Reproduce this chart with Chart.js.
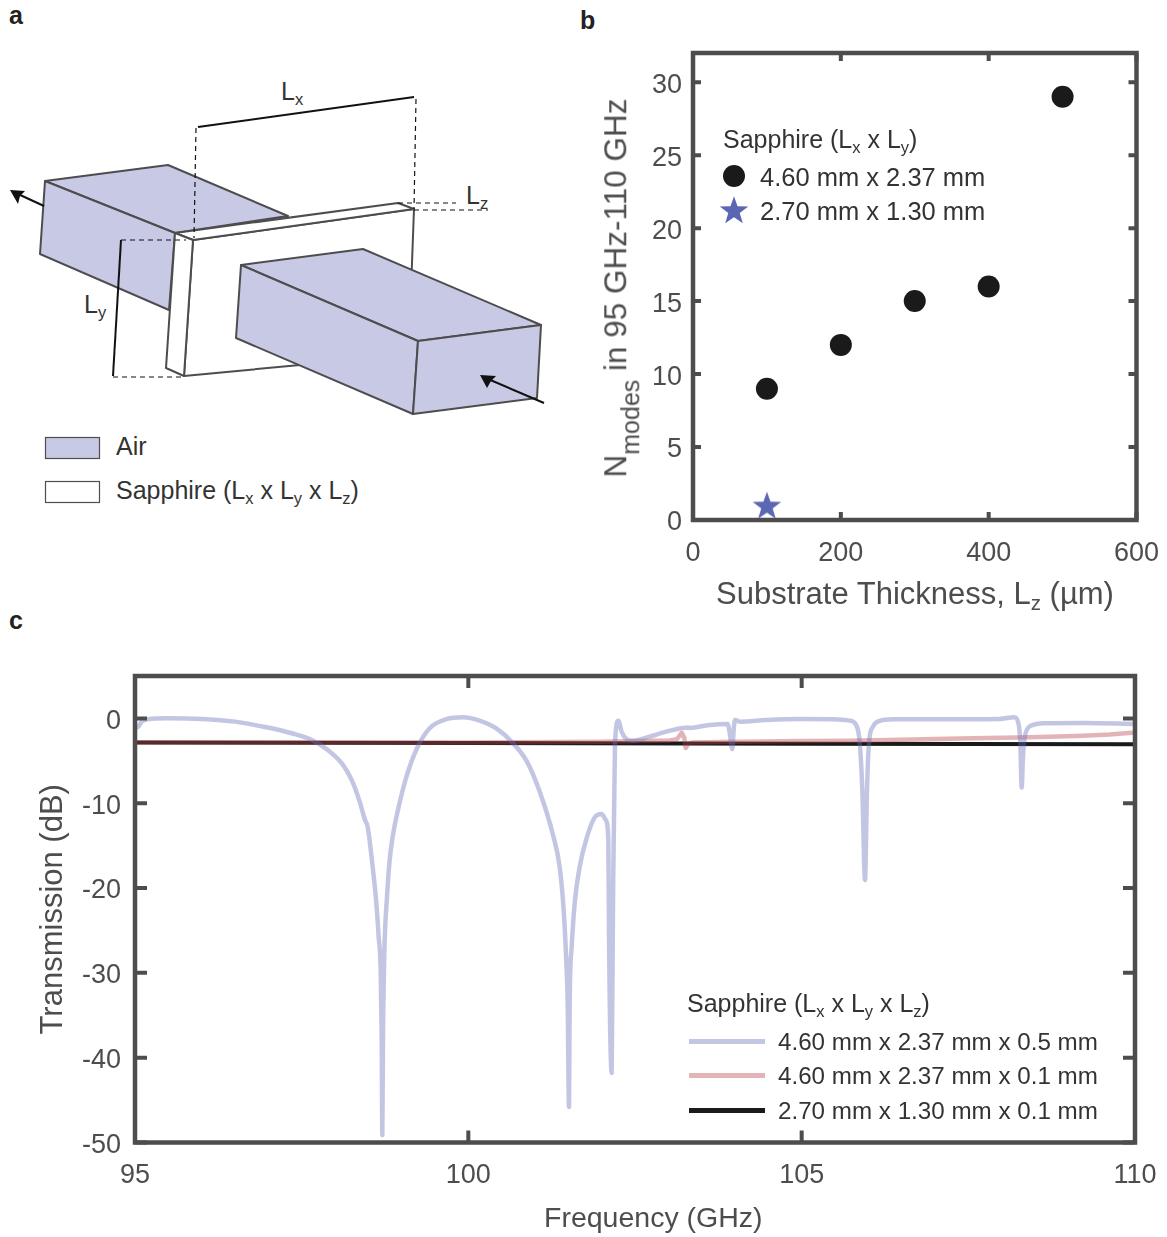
<!DOCTYPE html>
<html>
<head>
<meta charset="utf-8">
<title>Sapphire substrate transmission</title>
<script src="https://cdn.jsdelivr.net/npm/chart.js@4/dist/chart.umd.min.js"></script>
<style>
html, body { margin: 0; padding: 0; width: 1167px; height: 1237px; background: #fff; overflow: hidden; }
body { position: relative; font-family: "Liberation Sans", Arial, sans-serif; }
canvas.plot { position: absolute; }
.t { position: absolute; white-space: nowrap; line-height: 1; }
.t sub { font-size: 66%; vertical-align: -0.3em; line-height: 0; }
.panel { font-weight: bold; font-size: 25px; color: #222; }
.leg { color: #333; }
.axis { color: #4d4d4d; }
.swatch { position: absolute; width: 76px; height: 5px; }
#schematic { position: absolute; left: 0; top: 0; }
</style>
</head>
<body>

<svg id="schematic" width="570" height="530">
  <g fill="#c8c9e4" stroke="#4d4d4f" stroke-width="2" stroke-linejoin="round">
    <polygon points="45,181 168,165 288,216 175,233"/>
    <polygon points="45,181 175,233 169,310 40,254"/>
  </g>
  <g fill="#fff" stroke="#4d4d4f" stroke-width="2" stroke-linejoin="round">
    <polygon points="193,240 414,209 411,290 300,365 184,376"/>
    <polygon points="175,233 398,203 414,209 193,240"/>
    <polygon points="175,233 193,240 184,376 166,368"/>
  </g>
  <g fill="#c8c9e4" stroke="#4d4d4f" stroke-width="2" stroke-linejoin="round">
    <polygon points="241,265 363,249 541,325 418,341"/>
    <polygon points="241,265 418,341 413,414 236,338"/>
    <polygon points="418,341 541,325 537,398 413,414"/>
  </g>
  <g stroke="#111" stroke-width="2" fill="none">
    <line x1="198" y1="127" x2="414" y2="97"/>
    <line x1="121" y1="240" x2="113" y2="376"/>
    <line x1="44" y1="206" x2="18" y2="194"/>
    <line x1="544" y1="403" x2="488" y2="379"/>
  </g>
  <polygon points="10,190 25,191 20,196 18,204" fill="#111"/>
  <polygon points="480,375 496,376 491,381 487,388" fill="#111"/>
  <g stroke="#111" stroke-width="1.2" fill="none" stroke-dasharray="5 4">
    <line x1="196" y1="128" x2="194" y2="238"/>
    <line x1="416" y1="99" x2="414" y2="209"/>
    <line x1="398" y1="203" x2="456" y2="203"/>
    <line x1="414" y1="210" x2="488" y2="210"/>
    <line x1="121" y1="240" x2="186" y2="240"/>
    <line x1="113" y1="377" x2="184" y2="377"/>
  </g>
  <rect x="45.5" y="437.5" width="54" height="21" fill="#c8c9e4" stroke="#4d4d4f" stroke-width="1.2"/>
  <rect x="45.5" y="481.5" width="54" height="21" fill="#fff" stroke="#4d4d4f" stroke-width="1.2"/>
</svg>

<div class="t panel" style="left:9px;top:3px">a</div>
<div class="t panel" style="left:580px;top:8px">b</div>
<div class="t panel" style="left:9px;top:608px">c</div>

<div class="t leg" style="left:281px;top:79px;font-size:25px">L<sub>x</sub></div>
<div class="t leg" style="left:84px;top:292px;font-size:25px">L<sub>y</sub></div>
<div class="t leg" style="left:466px;top:183px;font-size:25px">L<sub>z</sub></div>
<div class="t leg" style="left:116px;top:434px;font-size:25px">Air</div>
<div class="t leg" style="left:116px;top:478px;font-size:25px">Sapphire (L<sub>x</sub> x L<sub>y</sub> x L<sub>z</sub>)</div>

<canvas class="plot" id="chartB" style="left:570px;top:30px"></canvas>
<canvas class="plot" id="chartC" style="left:0;top:630px"></canvas>

<div class="t axis" style="left:616px;top:287.5px;font-size:31.5px;transform:translate(-50%,-50%) rotate(-90deg)">N<sub style="font-size:25px;vertical-align:-0.5em">modes</sub> in 95 GHz-110 GHz</div>
<div class="t axis" style="left:716px;top:578px;font-size:31px">Substrate Thickness, L<sub>z</sub> (µm)</div>
<div class="t axis" style="left:544px;top:1203px;font-size:28.5px">Frequency (GHz)</div>

<div id="legendB"></div>
<div id="legendC"></div>

<script>
// panel b
const thickness = [100, 200, 300, 400, 500];
const modesLarge = [9, 12, 15, 16, 29];
const thicknessSmall = [100];
const modesSmall = [1];
const xTicksB = [0, 200, 400, 600];
const yTicksB = [0, 5, 10, 15, 20, 25, 30];

// panel c
const freqThick = [95, 95.05, 95.1, 95.19, 95.49, 96, 96.5, 96.99, 97.35, 97.65, 97.89, 98.1, 98.25, 98.37, 98.45, 98.49, 98.57, 98.62, 98.655, 98.685, 98.7, 98.71, 98.72, 98.74, 98.78, 98.82, 98.87, 98.95, 99.08, 99.23, 99.42, 99.68, 99.92, 100.17, 100.43, 100.67, 100.88, 101.07, 101.27, 101.37, 101.43, 101.47, 101.49, 101.51, 101.52, 101.55, 101.6, 101.67, 101.78, 101.9, 102, 102.06, 102.1, 102.11, 102.15, 102.17, 102.2, 102.25, 102.3, 102.37, 102.47, 102.72, 102.97, 103.3, 103.32, 103.62, 103.89, 103.92, 103.96, 103.98, 104, 104.07, 104.47, 104.97, 105.47, 105.72, 105.83, 105.87, 105.91, 105.95, 105.98, 106.01, 106.07, 106.17, 106.37, 107.22, 107.97, 108.19, 108.25, 108.28, 108.3, 108.32, 108.36, 108.47, 108.62, 109.22, 110];
const transThick = [-1.12, -0.97, -0.38, -0.09, 0.02, -0.06, -0.38, -1.08, -1.75, -2.54, -3.71, -5.28, -7.25, -9.81, -11.97, -12.79, -17.87, -21.76, -25.77, -29.66, -37.56, -49.12, -37.56, -27.65, -21.05, -16.69, -13.74, -10.59, -6.66, -3.51, -1.16, -0.06, 0.14, -0.26, -1.24, -2.92, -5.09, -8.63, -13.74, -17.51, -22.58, -28.83, -33.55, -45.81, -33.55, -26.95, -21.4, -17.51, -13.97, -11.62, -11.26, -11.97, -14.33, -25.77, -41.8, -21.76, -2.89, -0.29, -1.59, -2.42, -2.62, -2.15, -1.56, -1.08, -1.12, -0.77, -0.65, -1.71, -3.6, -1.36, -0.18, -0.38, -0.18, -0.06, -0.09, -0.26, -1, -2.77, -8.43, -19.04, -8.43, -2.89, -0.97, -0.29, -0.09, -0.09, -0.06, 0.14, -0.53, -2.89, -8.16, -4.5, -1.71, -0.77, -0.57, -0.53, -0.65];
const freqThin = [95, 100, 101.97, 103.02, 103.13, 103.2, 103.24, 103.26, 103.3, 103.35, 103.77, 104.97, 105.72, 107.57, 108.23, 108.72, 109.22, 109.62, 110];
const transThin = [-2.85, -2.83, -2.74, -2.59, -2.45, -1.71, -2.3, -3.48, -3, -2.85, -2.77, -2.65, -2.62, -2.33, -2.26, -2.15, -2.03, -1.89, -1.67];
const freqSmall = [95, 100, 105, 110];
const transSmall = [-2.85, -2.9, -2.98, -3.05];
const xTicksC = [95, 100, 105, 110];
const yTicksC = [-50, -40, -30, -20, -10, 0];

const legendLabelsB = ["4.60 mm x 2.37 mm", "2.70 mm x 1.30 mm"];
const legendLabelsC = ["4.60 mm x 2.37 mm x 0.5 mm", "4.60 mm x 2.37 mm x 0.1 mm", "2.70 mm x 1.30 mm x 0.1 mm"];

const axisColor = "#4d4d4d";
const starColor = "#5b66b5";

function zip(xs, ys) {
    return xs.map((x, i) => ({ x: x, y: ys[i] }));
}

// filled five point star, chart.js only has the stroked one
function makeStar(size) {
    const c = document.createElement("canvas");
    c.width = size;
    c.height = size;
    const g = c.getContext("2d");
    g.fillStyle = starColor;
    g.beginPath();
    for (let i = 0; i < 10; i++) {
        const r = i % 2 ? size * 0.2 : size * 0.5;
        const a = -Math.PI / 2 + i * Math.PI / 5;
        g.lineTo(size / 2 + r * Math.cos(a), size / 2 + r * Math.sin(a) + size * 0.04);
    }
    g.closePath();
    g.fill();
    return c;
}

// box round the plot with ticks pointing inwards on all four sides
const frameTicks = {
    id: "frameTicks",
    afterDatasetsDraw(chart, args, opts) {
        const { ctx, chartArea: a, scales } = chart;
        ctx.save();
        ctx.strokeStyle = axisColor;
        ctx.lineWidth = opts.width;
        scales.x.ticks.forEach(t => {
            const px = scales.x.getPixelForValue(t.value);
            ctx.beginPath();
            ctx.moveTo(px, a.top);
            ctx.lineTo(px, a.top + opts.len);
            ctx.moveTo(px, a.bottom);
            ctx.lineTo(px, a.bottom - opts.len);
            ctx.stroke();
        });
        scales.y.ticks.forEach(t => {
            const py = scales.y.getPixelForValue(t.value);
            ctx.beginPath();
            ctx.moveTo(a.left, py);
            ctx.lineTo(a.left + opts.len, py);
            ctx.moveTo(a.right, py);
            ctx.lineTo(a.right - opts.len, py);
            ctx.stroke();
        });
        ctx.lineWidth = opts.frame;
        ctx.strokeRect(a.left, a.top, a.right - a.left, a.bottom - a.top);
        ctx.restore();
    }
};

function axis(min, max, tickList, fitSize, padding, labelOffset, title) {
    return {
        type: "linear",
        min: min,
        max: max,
        afterBuildTicks: s => { s.ticks = tickList.map(v => ({ value: v })); },
        afterFit: s => {
            if (s.isHorizontal()) s.height = fitSize; else s.width = fitSize;
            // keep the plot box where it was asked for, whatever the labels need
            s.paddingLeft = s.paddingRight = s.paddingTop = s.paddingBottom = 0;
        },
        grid: { display: false, drawTicks: false },
        border: { display: false },
        ticks: {
            autoSkip: false,
            maxRotation: 0,
            padding: padding,
            labelOffset: labelOffset,
            color: axisColor,
            font: { family: "'Liberation Sans'", size: 27 }
        },
        title: title || { display: false }
    };
}

function setSize(id, w, h) {
    const el = document.getElementById(id);
    el.width = w;
    el.height = h;
    el.style.width = w + "px";
    el.style.height = h + "px";
    return el;
}

const starImage = makeStar(30);

new Chart(setSize("chartB", 597, 600), {
    type: "scatter",
    data: {
        datasets: [
            { label: legendLabelsB[0], data: zip(thickness, modesLarge), pointRadius: 11, pointBackgroundColor: "#1a1a1a", pointBorderWidth: 0 },
            { label: legendLabelsB[1], data: zip(thicknessSmall, modesSmall), pointStyle: starImage }
        ]
    },
    options: {
        responsive: false,
        animation: false,
        layout: { autoPadding: false, padding: { left: 0, top: 23, right: 30.5, bottom: 0 } },
        scales: {
            x: axis(0, 600, xTicksB, 110, 17, 0),
            y: axis(0, 32, yTicksB, 123, 11, 3)
        },
        plugins: {
            legend: { display: false },
            tooltip: { enabled: false },
            frameTicks: { len: 8, width: 4, frame: 4.5 }
        }
    },
    plugins: [frameTicks]
});

new Chart(setSize("chartC", 1167, 607), {
    type: "scatter",
    data: {
        datasets: [
            { label: legendLabelsC[0], data: zip(freqThick, transThick), showLine: true, pointRadius: 0, borderColor: "rgba(105,112,185,0.4)", borderWidth: 4.5, borderJoinStyle: "round", borderCapStyle: "round", cubicInterpolationMode: "monotone" },
            { label: legendLabelsC[1], data: zip(freqThin, transThin), showLine: true, pointRadius: 0, borderColor: "rgba(185,67,75,0.4)", borderWidth: 4.5, borderJoinStyle: "round" },
            { label: legendLabelsC[2], data: zip(freqSmall, transSmall), showLine: true, pointRadius: 0, borderColor: "#1a1a1a", borderWidth: 4 }
        ]
    },
    options: {
        responsive: false,
        animation: false,
        layout: { autoPadding: false, padding: { left: 0, top: 46, right: 32, bottom: 0 } },
        scales: {
            x: axis(95, 110, xTicksC, 94.5, 17, 0),
            y: axis(-50, 5, yTicksC, 135, 14, 3, {
                display: true, text: "Transmission (dB)", color: axisColor,
                font: { family: "'Liberation Sans'", size: 31 }, padding: { top: 35, bottom: 0 }
            })
        },
        plugins: {
            legend: { display: false },
            tooltip: { enabled: false },
            frameTicks: { len: 12, width: 4, frame: 4.5 }
        }
    },
    plugins: [frameTicks]
});

// legends carry subscripts so they are plain html
function addText(parent, html, left, centerY, size) {
    const d = document.createElement("div");
    d.className = "t leg";
    d.style.left = left + "px";
    d.style.top = (centerY - size / 2) + "px";
    d.style.fontSize = size + "px";
    d.innerHTML = html;
    parent.appendChild(d);
}

const legB = document.getElementById("legendB");
addText(legB, "Sapphire (L<sub>x</sub> x L<sub>y</sub>)", 723, 139, 25);
addText(legB, legendLabelsB[0], 760, 178, 25.5);
addText(legB, legendLabelsB[1], 760, 212, 25.5);
const dot = document.createElement("div");
dot.style.cssText = "position:absolute;left:723px;top:165px;width:22px;height:22px;border-radius:50%;background:#1a1a1a";
legB.appendChild(dot);
const star = makeStar(30);
star.style.cssText = "position:absolute;left:719px;top:195px";
legB.appendChild(star);

const legC = document.getElementById("legendC");
addText(legC, "Sapphire (L<sub>x</sub> x L<sub>y</sub> x L<sub>z</sub>)", 687, 1003, 25);
const swatchColors = ["#c3c6e3", "#e3b4b7", "#1a1a1a"];
const swatchRows = [1041, 1075, 1110];
legendLabelsC.forEach((label, i) => {
    const s = document.createElement("div");
    s.className = "swatch";
    s.style.left = "689px";
    s.style.top = (swatchRows[i] - 2) + "px";
    s.style.background = swatchColors[i];
    legC.appendChild(s);
    addText(legC, label, 778, swatchRows[i] + 1, 24.2);
});
</script>
</body>
</html>
